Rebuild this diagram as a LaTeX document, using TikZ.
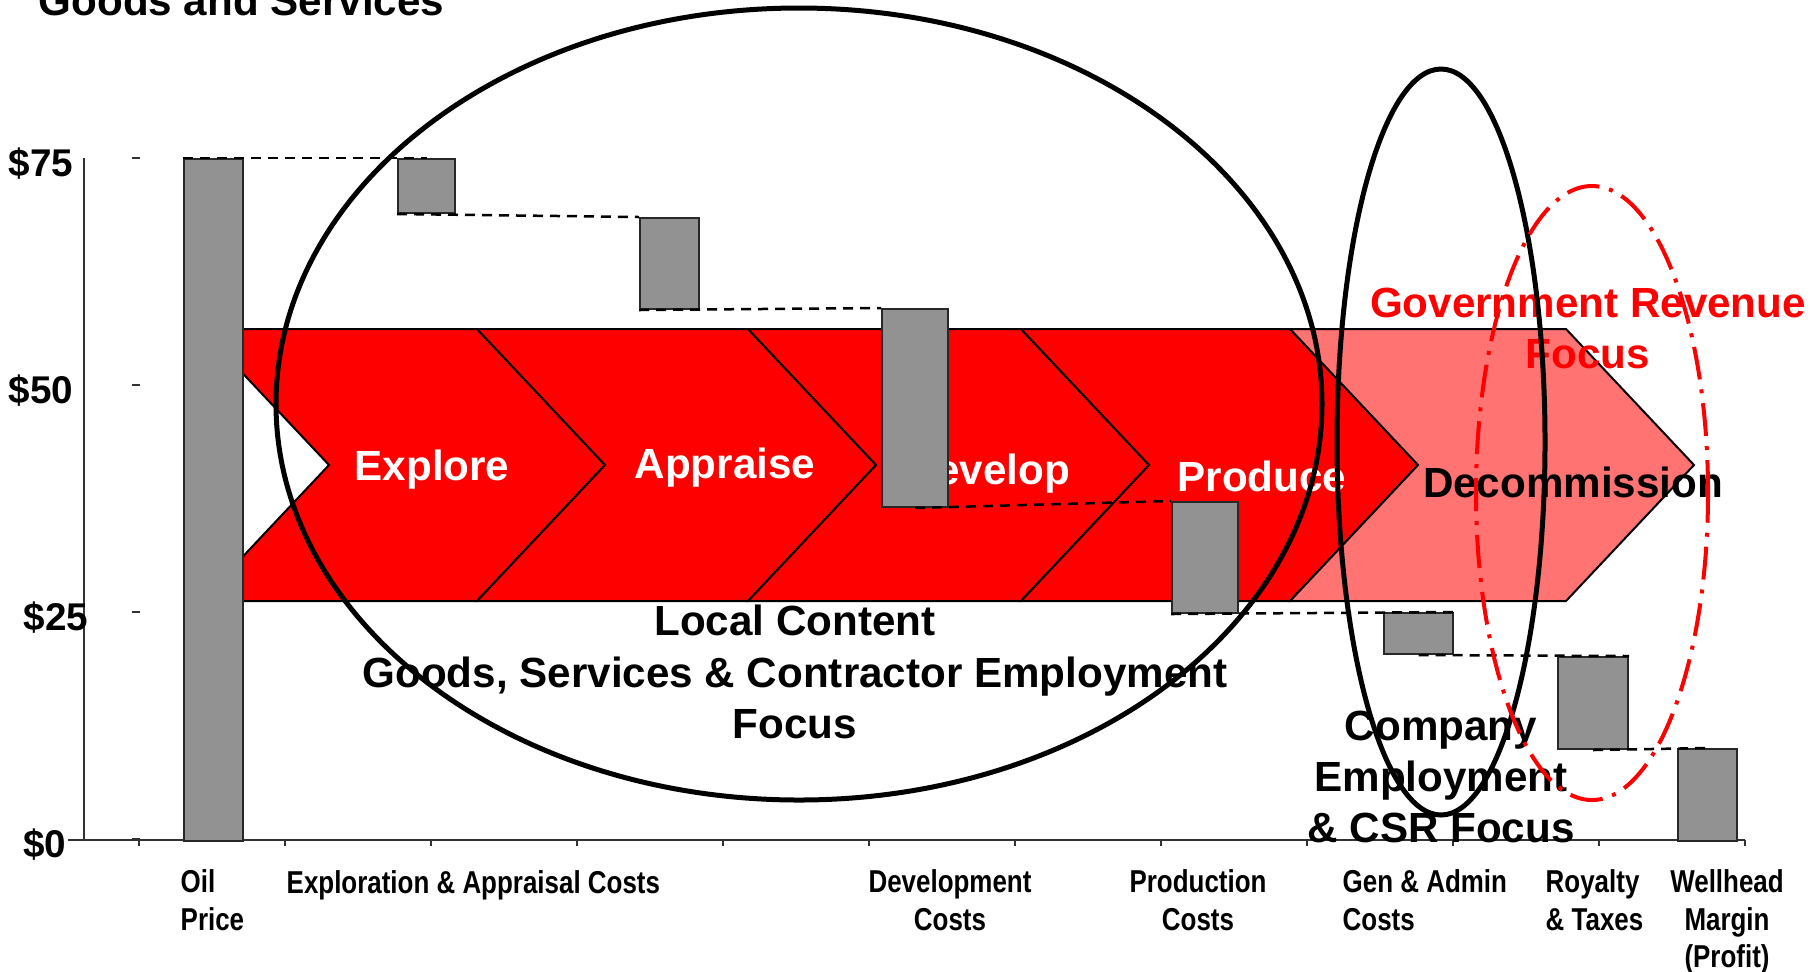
\documentclass[tikz,border=0pt]{standalone}
\usepackage{fontspec}
\setmainfont{Liberation Sans}
\newfontfamily\narrowfont[FakeStretch=0.82]{Liberation Sans}
\usepackage{tikz}
\usetikzlibrary{calc}
\tikzset{>=latex}
\definecolor{barfill}{RGB}{146,146,146}
\definecolor{baredge}{RGB}{40,40,40}
\definecolor{stagered}{RGB}{255,0,0}
\definecolor{stagepink}{RGB}{255,115,115}
\definecolor{axisgray}{RGB}{50,50,50}
\tikzset{
  costbar/.style={draw=baredge, fill=barfill, line width=0.2mm, inner sep=0pt, anchor=north west},
  stepline/.style={dash pattern=on 1mm off 0.7mm, line width=0.25mm},
  chevline/.style={draw=black, line width=0.2mm},
  stagetext/.style={font={\bfseries\fontsize{12}{14}\selectfont}, text=white, anchor=base, inner sep=0pt},
  focustext/.style={font={\bfseries\fontsize{12}{14.6}\selectfont}, align=center, inner sep=0pt},
  dollar/.style={font={\bfseries\fontsize{11}{13}\selectfont}, anchor=base east, inner sep=0pt},
  costlabel/.style={font={\narrowfont\bfseries\fontsize{9}{10.7}\selectfont}, inner sep=0pt},
  focusring/.style={line width=0.5mm}
}

\begin{document}
\begin{tikzpicture}[x=0.1mm, y=-0.1mm]
\useasboundingbox (0,0) rectangle (1818,971);

% value chain arrows
\foreach \l/\r/\c in {201/477/stagered, 477/748/stagered, 748/1021/stagered, 1021/1290/stagered, 1290/1566/stagepink}
  \filldraw[fill=\c, chevline] (\l,329) -- (\r,329) -- (\r+128,465) -- (\r,601) -- (\l,601) -- (\l+128,465) -- cycle;

\node[stagetext] (explore) at (432,480) {Explore};
\node[stagetext] (appraise) at (725,478) {Appraise};
\node[stagetext] (develop) at (988,484) {Develop};
\node[stagetext] (produce) at (1262,491) {Produce};
\node[stagetext, text=black] (decom) at (1573,497) {Decommission};

% axes
\draw[axisgray, line width=0.15mm] (84,158) -- (84,840);
\draw[axisgray, line width=0.15mm] (68,840) -- (1745,840);
\foreach \i in {0,...,11}
  \draw[axisgray, line width=0.15mm] (139+146*\i,840) -- ++(0,6);
\foreach \v in {158,385,612,839}
  \draw[axisgray, line width=0.15mm] (132,\v) -- (140,\v);

\node[dollar] (d75) at (74,176) {\$75};
\node[dollar] (d50) at (74,403) {\$50};
\node[dollar] (d25) at (89,630) {\$25};
\node[dollar] (d0) at (67,857) {\$0};

% waterfall bars
\node[costbar, minimum width=5.9mm, minimum height=68.2mm] (oil) at (183,158) {};
\node[costbar, minimum width=5.7mm, minimum height=5.4mm] (expl) at (397,158) {};
\node[costbar, minimum width=5.9mm, minimum height=9.1mm] (appr) at (639,217) {};
\node[costbar, minimum width=6.6mm, minimum height=19.8mm] (devl) at (881,308) {};
\node[costbar, minimum width=6.6mm, minimum height=11.1mm] (prod) at (1171,501) {};
\node[costbar, minimum width=6.9mm, minimum height=4.1mm] (gna) at (1383,612) {};
\node[costbar, minimum width=7.0mm, minimum height=9.2mm] (roy) at (1557,656) {};
\node[costbar, minimum width=5.9mm, minimum height=9.2mm] (well) at (1677,748) {};

\draw[stepline] (oil.north west) -- (expl.north);
\draw[stepline] (expl.south west) -- (appr.north west);
\draw[stepline] (appr.south west) -- (devl.north west);
\draw[stepline] (devl.south) -- (prod.north west);
\draw[stepline] (prod.south west) -- (gna.north east);
\draw[stepline] (gna.south) -- (roy.north east);
\draw[stepline] (roy.south) -- (well.north);

% cost labels
\node[costlabel, anchor=north west, align=left] (oillab) at (180,869) {Oil\\Price};
\node[costlabel, anchor=base west] (eandalab) at (286,893) {Exploration \& Appraisal Costs};
\node[costlabel, anchor=north, align=center] (devlab) at (950,869) {Development\\Costs};
\node[costlabel, anchor=north, align=center] (prodlab) at (1198,869) {Production\\Costs};
\node[costlabel, anchor=north west, align=left] (gnalab) at (1342,869) {Gen \& Admin\\Costs};
\node[costlabel, anchor=north west, align=left] (roylab) at (1545,869) {Royalty\\\& Taxes};
\node[costlabel, anchor=north, align=center] (welllab) at (1727,869) {Wellhead\\Margin\\(Profit)};

\node[font={\bfseries\fontsize{12}{14}\selectfont}, anchor=base west, inner sep=0pt] (title) at (38,15) {Goods and Services};

% focus areas
\node[focustext] (local) at (795,672) {Local Content\\Goods, Services \& Contractor Employment\\Focus};
\node[focustext, font={\bfseries\fontsize{12}{14.5}\selectfont}] (company) at (1441,777) {Company\\Employment\\\& CSR Focus};
\node[focustext, font={\bfseries\fontsize{12}{14.5}\selectfont}, text=stagered] (gov) at (1588,328) {Government Revenue\\Focus};

\draw[focusring] (799,404) ellipse [x radius=52.3mm, y radius=39.6mm];
\draw[focusring] (1441,442) ellipse [x radius=10.4mm, y radius=37.3mm];
\draw[stagered, line width=0.4mm, dash pattern=on 3.3mm off 1mm on 0.4mm off 1mm] (1592,493) ellipse [x radius=11.6mm, y radius=30.7mm];
\end{tikzpicture}
\end{document}
